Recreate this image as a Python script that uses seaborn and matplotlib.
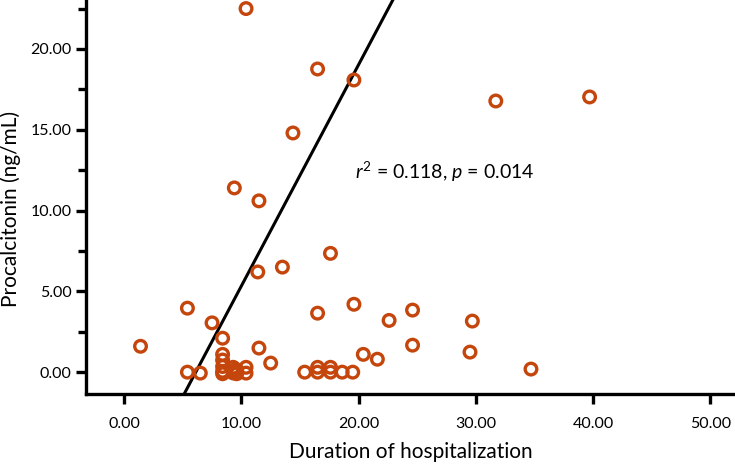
import numpy as np
import pandas as pd
import matplotlib
matplotlib.use("Agg")
import matplotlib.pyplot as plt
import seaborn as sns

# Duration of hospitalization (days) and procalcitonin (ng/mL)
duration = [10.4, 16.5, 19.6, 14.4, 31.7, 39.7,
            9.4, 11.5, 17.6, 13.5, 11.4,
            1.4, 5.4, 7.5, 8.4, 8.4, 8.4, 8.4, 8.4, 8.4,
            11.5, 12.5, 5.4, 6.5,
            9.3, 9.3, 9.3, 9.6, 9.6, 10.4, 10.4,
            16.5, 19.6, 22.6, 24.6, 29.7, 24.6, 29.5, 34.7,
            20.4, 21.6,
            15.4, 16.5, 16.5, 17.6, 17.6, 18.6, 19.5]
pct = [22.5, 18.76, 18.08, 14.8, 16.78, 17.03,
       11.4, 10.6, 7.35, 6.5, 6.2,
       1.6, 3.96, 3.05, 2.1, 1.1, 0.75, 0.35, 0.05, -0.1,
       1.49, 0.56, 0.0, -0.06,
       0.3, 0.1, -0.05, 0.15, -0.1, 0.3, -0.06,
       3.65, 4.2, 3.2, 3.84, 3.16, 1.67, 1.24, 0.19,
       1.1, 0.8,
       0.0, 0.3, 0.0, 0.3, 0.0, 0.0, 0.0]

# fitted line drawn in the figure
slope = 1.37
intercept = -8.37

x_ticks = [0, 10, 20, 30, 40, 50]
y_ticks = [0, 5, 10, 15, 20]

df = pd.DataFrame({"duration": duration, "pct": pct})

sns.set_style("white")
plt.rcParams['font.family'] = ['Lato', 'DejaVu Sans']
plt.rcParams['mathtext.fontset'] = 'custom'
plt.rcParams['mathtext.rm'] = 'Lato'
plt.rcParams['mathtext.it'] = 'Lato:italic'
plt.rcParams['text.color'] = 'black'
plt.rcParams['axes.labelcolor'] = 'black'
plt.rcParams['xtick.color'] = 'black'
plt.rcParams['ytick.color'] = 'black'

fig = plt.figure(figsize=(7.35, 4.72), dpi=100)
ax = fig.add_axes([0.117, 0.165, 0.883, 0.835])

sns.scatterplot(data=df, x="duration", y="pct", ax=ax, s=70, marker="o",
                facecolor="none", edgecolor="#c4460c", linewidth=2.4, zorder=3)

xs = np.array([-5, 55])
ax.plot(xs, slope * xs + intercept, color="black", lw=2.2, zorder=2)

ax.set_xlim(-3.25, 52.1)
ax.set_ylim(-1.36, 23.03)
ax.set_xticks(x_ticks)
ax.set_xticklabels([f"{v:.2f}" for v in x_ticks])
ax.set_yticks(y_ticks)
ax.set_yticklabels([f"{v:.2f}" for v in y_ticks])
ax.set_yticks([2.5, 7.5, 12.5, 17.5, 22.5], minor=True)

for s in ["top", "right"]:
    ax.spines[s].set_visible(False)
for s in ["left", "bottom"]:
    ax.spines[s].set_linewidth(2.4)
    ax.spines[s].set_color("black")

ax.tick_params(axis="both", which="major", direction="out", length=7.5, width=2.4,
               labelsize=11.5, left=True, bottom=True, pad=3)
ax.tick_params(axis="y", which="minor", direction="out", length=6, width=2.4, left=True)
ax.tick_params(axis="x", pad=9)

ax.set_xlabel("Duration of hospitalization", fontsize=15, labelpad=8)
ax.set_ylabel("Procalcitonin (ng/mL)", fontsize=15)
ax.yaxis.set_label_coords(-0.1, 0.47)

ax.text(19.7, 12.4, r"$r^2$ = 0.118, $p$ = 0.014", fontsize=14, va="center", ha="left")

fig.savefig("out.png", dpi=100)
